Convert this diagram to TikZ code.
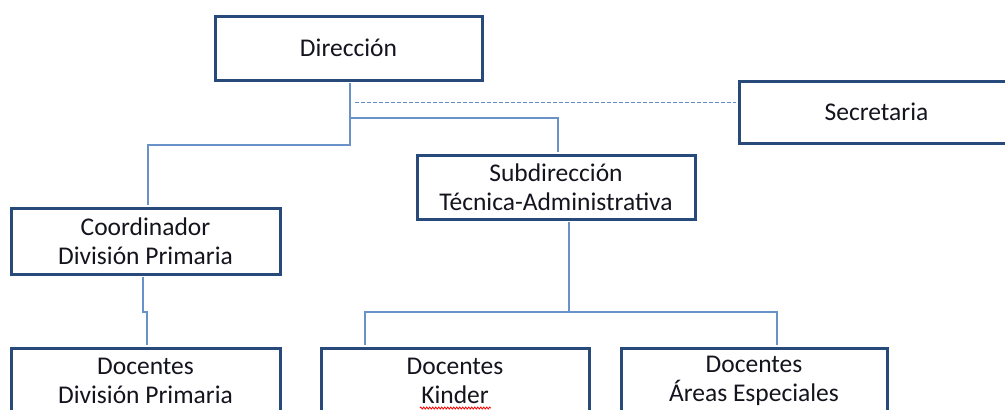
\documentclass[tikz,border=0pt]{standalone}
\usepackage{fontspec}
\setmainfont{Carlito}
\usetikzlibrary{decorations.pathmorphing}
\definecolor{boxblue}{RGB}{40,74,122}
\definecolor{linkblue}{RGB}{105,146,200}
\definecolor{dashblue}{RGB}{100,140,195}
\definecolor{txt}{RGB}{20,20,30}
\tikzset{
  orgbox/.style={draw=boxblue, line width=3pt, fill=white, inner sep=0pt,
    align=center, text=txt, font=\fontsize{25.5}{29.5}\selectfont},
  conn/.style={draw=linkblue, line width=1.8pt},
  dashconn/.style={draw=dashblue, line width=1.6pt, dash pattern=on 4pt off 2pt}
}
\begin{document}
\begin{tikzpicture}[x=1pt,y=-1pt]
\useasboundingbox (0,0) rectangle (1005,410);
\clip (0,0) rectangle (1005,410);
\fill[white] (0,0) rectangle (1005,410);
\coordinate (t1) at (350,145);
\coordinate (t2) at (350,118);
\coordinate (t3) at (148,145);
\coordinate (dd) at (355,102.5);
\coordinate (c1) at (143,312);
\coordinate (c2) at (147,312);
\coordinate (s1) at (569,312);
\coordinate (s2) at (365,312);
\coordinate (s3) at (777,312);

\node[orgbox, minimum width=267pt, minimum height=64pt] (dir) at (348.5,48) {Dirección};
\node[orgbox, minimum width=275pt, minimum height=62pt] (sec) at (876.5,112) {Secretaria};
\node[orgbox, minimum width=278pt, minimum height=64pt] (sub) at (556,187) {Subdirección\\Técnica-Administrativa};
\node[orgbox, minimum width=269pt, minimum height=66pt] (coord) at (145.5,241) {Coordinador\\División Primaria};
\node[orgbox, minimum width=269pt, minimum height=66pt] (dpri) at (145.5,381) {Docentes\\División Primaria};
\node[orgbox, minimum width=268pt, minimum height=66pt] (dkin) at (455,381) {Docentes\\Kinder};
\node[orgbox, minimum width=266pt, minimum height=66pt] (dare) at (754,381) {Docentes\\Áreas Especiales};

\draw[conn] ([xshift=1.5pt,yshift=-1.5pt]dir.south) -- (t1) -- (t3) -- ([xshift=2.5pt,yshift=1.5pt]coord.north);
\draw[conn] (t2) -| ([xshift=2pt,yshift=1.5pt]sub.north);
\draw[dashconn] (dd) -- ([xshift=-1.5pt]dd -| sec.west);
\draw[conn] ([xshift=-2.5pt,yshift=-1.5pt]coord.south) -- (c1) -- (c2) -- ([xshift=1.5pt,yshift=1.5pt]dpri.north);
\draw[conn] ([xshift=13pt,yshift=-1.5pt]sub.south) -- (s1);
\draw[conn] ([xshift=-90pt,yshift=1.5pt]dkin.north) -- (s2) -- (s3) -- ([xshift=23pt,yshift=1.5pt]dare.north);
\coordinate (sq1) at (420,408);
\coordinate (sq2) at (491,408);
\draw[red, line width=0.8pt, decorate, decoration={zigzag, amplitude=1pt, segment length=3pt}] (sq1) -- (sq2);
\end{tikzpicture}
\end{document}
